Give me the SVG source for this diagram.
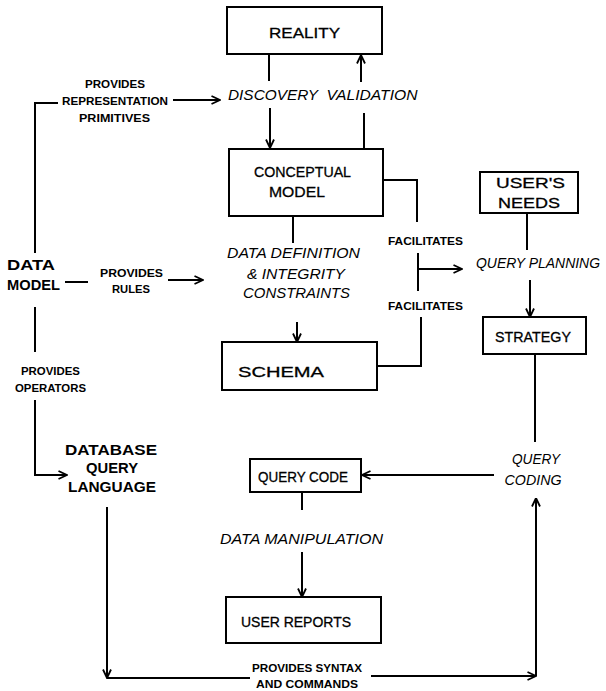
<svg xmlns="http://www.w3.org/2000/svg" width="606" height="691" viewBox="0 0 606 691">
<style>
  .box { fill: #fff; stroke: #000; stroke-width: 2; }
  .ln { fill: none; stroke: #000; stroke-width: 2; }
  .lbl { font-family: "Liberation Sans", Arial, sans-serif; font-size: 15px; fill: #000; stroke: #000; stroke-width: 0.3; text-anchor: middle; }
  .sm { font-family: "Liberation Sans", Arial, sans-serif; font-size: 11px; font-weight: bold; fill: #000; text-anchor: middle; }
  .big { font-family: "Liberation Sans", Arial, sans-serif; font-size: 14px; font-weight: bold; fill: #000; text-anchor: middle; }
  .it { font-family: "Liberation Sans", Arial, sans-serif; font-size: 14px; font-style: italic; fill: #000; text-anchor: middle; }
</style>
<defs>
  <marker id="arr" viewBox="0 0 10 10" refX="9.5" refY="5" markerWidth="10" markerHeight="10" markerUnits="userSpaceOnUse" orient="auto">
    <path d="M1,1 L9.5,5 L1,9" fill="none" stroke="#000" stroke-width="1.8"/>
  </marker>
</defs>
<rect width="606" height="691" fill="#fff"/>

<g id="connectors">
  <path class="ln" d="M269,54 V81"/>
  <path class="ln" d="M270,108 V148" marker-end="url(#arr)"/>
  <path class="ln" d="M364,149 V113"/>
  <path class="ln" d="M361,82 V55" marker-end="url(#arr)"/>
  <path class="ln" d="M35,253 V103 H58"/>
  <path class="ln" d="M173,100 H220" marker-end="url(#arr)"/>
  <path class="ln" d="M65,282 H88"/>
  <path class="ln" d="M168,280 H203" marker-end="url(#arr)"/>
  <path class="ln" d="M35,307 V352"/>
  <path class="ln" d="M35,400 V475 H67" marker-end="url(#arr)"/>
  <path class="ln" d="M293,216 V243"/>
  <path class="ln" d="M297,322 V342" marker-end="url(#arr)"/>
  <path class="ln" d="M383,180 H417 V222"/>
  <path class="ln" d="M418,253 V291"/>
  <path class="ln" d="M418,269 H462" marker-end="url(#arr)"/>
  <path class="ln" d="M377,366 H421 V317"/>
  <path class="ln" d="M527,213 V250"/>
  <path class="ln" d="M530,280 V317" marker-end="url(#arr)"/>
  <path class="ln" d="M535,354 V442"/>
  <path class="ln" d="M494,475 H362" marker-end="url(#arr)"/>
  <path class="ln" d="M302,492 V510"/>
  <path class="ln" d="M302,552 V597" marker-end="url(#arr)"/>
  <path class="ln" d="M107,507 V678" marker-end="url(#arr)"/>
  <path class="ln" d="M107,678 H250"/>
  <path class="ln" d="M371,676 H536" marker-end="url(#arr)"/>
  <path class="ln" d="M536,676 V498" marker-end="url(#arr)"/>
  <text class="sm" x="115" y="88" textLength="60" lengthAdjust="spacingAndGlyphs">PROVIDES</text>
  <text class="sm" x="115" y="105" textLength="106" lengthAdjust="spacingAndGlyphs">REPRESENTATION</text>
  <text class="sm" x="114.5" y="122" textLength="71" lengthAdjust="spacingAndGlyphs">PRIMITIVES</text>
  <text class="sm" x="131.5" y="277" textLength="63" lengthAdjust="spacingAndGlyphs">PROVIDES</text>
  <text class="sm" x="131" y="293" textLength="38" lengthAdjust="spacingAndGlyphs">RULES</text>
  <text class="sm" x="50.5" y="375" textLength="59" lengthAdjust="spacingAndGlyphs">PROVIDES</text>
  <text class="sm" x="50.5" y="392" textLength="71" lengthAdjust="spacingAndGlyphs">OPERATORS</text>
  <text class="sm" x="425.5" y="245" textLength="75" lengthAdjust="spacingAndGlyphs">FACILITATES</text>
  <text class="sm" x="425.5" y="310" textLength="75" lengthAdjust="spacingAndGlyphs">FACILITATES</text>
  <text class="sm" x="307" y="672" textLength="110" lengthAdjust="spacingAndGlyphs">PROVIDES SYNTAX</text>
  <text class="sm" x="307" y="688" textLength="102" lengthAdjust="spacingAndGlyphs">AND COMMANDS</text>
</g>

<g id="reality">
  <rect class="box" x="227" y="7" width="155" height="47"/>
  <text class="lbl" x="304.5" y="38" textLength="71" lengthAdjust="spacingAndGlyphs">REALITY</text>
</g>
<g id="discovery">
  <text class="it" x="273" y="100" textLength="90" lengthAdjust="spacingAndGlyphs">DISCOVERY</text>
</g>
<g id="validation">
  <text class="it" x="372" y="100" textLength="91" lengthAdjust="spacingAndGlyphs">VALIDATION</text>
</g>
<g id="conceptual-model">
  <rect class="box" x="229" y="149" width="154" height="67"/>
  <text class="lbl" x="302.5" y="177" textLength="97" lengthAdjust="spacingAndGlyphs">CONCEPTUAL</text>
  <text class="lbl" x="297" y="197" textLength="56" lengthAdjust="spacingAndGlyphs">MODEL</text>
</g>
<g id="data-model">
  <text class="big" x="31" y="270" textLength="48" lengthAdjust="spacingAndGlyphs">DATA</text>
  <text class="big" x="33.5" y="290" textLength="53" lengthAdjust="spacingAndGlyphs">MODEL</text>
</g>
<g id="data-definition">
  <text class="it" x="293.5" y="258" textLength="133" lengthAdjust="spacingAndGlyphs">DATA DEFINITION</text>
  <text class="it" x="296" y="279" textLength="98" lengthAdjust="spacingAndGlyphs">&amp; INTEGRITY</text>
  <text class="it" x="296.5" y="298" textLength="107" lengthAdjust="spacingAndGlyphs">CONSTRAINTS</text>
</g>
<g id="schema">
  <rect class="box" x="222" y="342" width="155" height="48"/>
  <text class="lbl" x="281" y="377" textLength="86" lengthAdjust="spacingAndGlyphs">SCHEMA</text>
</g>
<g id="users-needs">
  <rect class="box" x="480" y="172" width="98" height="41"/>
  <text class="lbl" x="530.5" y="188" textLength="69" lengthAdjust="spacingAndGlyphs">USER'S</text>
  <text class="lbl" x="529" y="208" textLength="62" lengthAdjust="spacingAndGlyphs">NEEDS</text>
</g>
<g id="query-planning">
  <text class="it" x="538" y="268" textLength="124" lengthAdjust="spacingAndGlyphs">QUERY PLANNING</text>
</g>
<g id="strategy">
  <rect class="box" x="483" y="317" width="103" height="37"/>
  <text class="lbl" x="533" y="342" textLength="76" lengthAdjust="spacingAndGlyphs">STRATEGY</text>
</g>
<g id="query-coding">
  <text class="it" x="536" y="464" textLength="48" lengthAdjust="spacingAndGlyphs">QUERY</text>
  <text class="it" x="533" y="485" textLength="57" lengthAdjust="spacingAndGlyphs">CODING</text>
</g>
<g id="database-query-language">
  <text class="big" x="111" y="455" textLength="92" lengthAdjust="spacingAndGlyphs">DATABASE</text>
  <text class="big" x="112" y="473" textLength="52" lengthAdjust="spacingAndGlyphs">QUERY</text>
  <text class="big" x="112" y="492" textLength="88" lengthAdjust="spacingAndGlyphs">LANGUAGE</text>
</g>
<g id="query-code">
  <rect class="box" x="250" y="459" width="111" height="33"/>
  <text class="lbl" x="303" y="482" textLength="90" lengthAdjust="spacingAndGlyphs">QUERY CODE</text>
</g>
<g id="data-manipulation">
  <text class="it" x="301.5" y="544" textLength="163" lengthAdjust="spacingAndGlyphs">DATA MANIPULATION</text>
</g>
<g id="user-reports">
  <rect class="box" x="226" y="597" width="155" height="46"/>
  <text class="lbl" x="296" y="627" textLength="110" lengthAdjust="spacingAndGlyphs">USER REPORTS</text>
</g>
</svg>
